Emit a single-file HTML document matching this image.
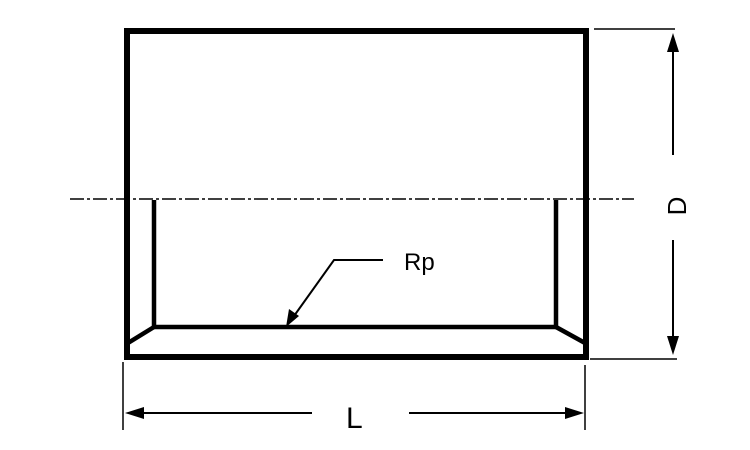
<!DOCTYPE html>
<html><head><meta charset="utf-8"><style>html,body{margin:0;padding:0;background:#fff;}svg{display:block}</style></head>
<body>
<svg width="750" height="450" viewBox="0 0 750 450" xmlns="http://www.w3.org/2000/svg">
<g fill="none" stroke="#000" stroke-linecap="butt">
<rect x="127" y="31" width="459" height="326" stroke-width="6"/>
<line x1="70" y1="199" x2="634" y2="199" stroke-width="1.5" stroke-dasharray="14 3 3 3"/>
<polyline points="154,200 154,327 556,327 556,200" stroke-width="4.5"/>
<line x1="154" y1="327" x2="128" y2="343" stroke-width="4.5"/>
<line x1="556" y1="327" x2="585" y2="343" stroke-width="4.5"/>
<line x1="594" y1="29" x2="675" y2="29" stroke-width="1.5"/>
<line x1="590" y1="359" x2="677" y2="359" stroke-width="1.5"/>
<line x1="673" y1="48" x2="673" y2="155" stroke-width="2"/>
<line x1="673" y1="240" x2="673" y2="340" stroke-width="2"/>
<line x1="123" y1="362" x2="123" y2="430" stroke-width="1.5"/>
<line x1="585" y1="365" x2="585" y2="430" stroke-width="1.5"/>
<line x1="142" y1="413" x2="312" y2="413" stroke-width="2"/>
<line x1="409" y1="413" x2="568" y2="413" stroke-width="2"/>
<polyline points="294,316 334,260 383,260" stroke-width="2"/>
</g>
<g fill="#000">
<polygon points="673,33 667,52 679,52"/>
<polygon points="673,355 667,336 679,336"/>
<polygon points="125,413 144,407 144,419"/>
<polygon points="584,413 565,407 565,419"/>
<polygon points="286,327 289,309 299,316"/>
</g>
<g font-family="Liberation Sans, sans-serif" fill="#000">
<text x="404" y="270" font-size="24">Rp</text>
<text x="346" y="428" font-size="30">L</text>
<text x="0" y="0" font-size="26" transform="translate(686,206) rotate(-90)" text-anchor="middle">D</text>
</g>
</svg>
</body></html>
